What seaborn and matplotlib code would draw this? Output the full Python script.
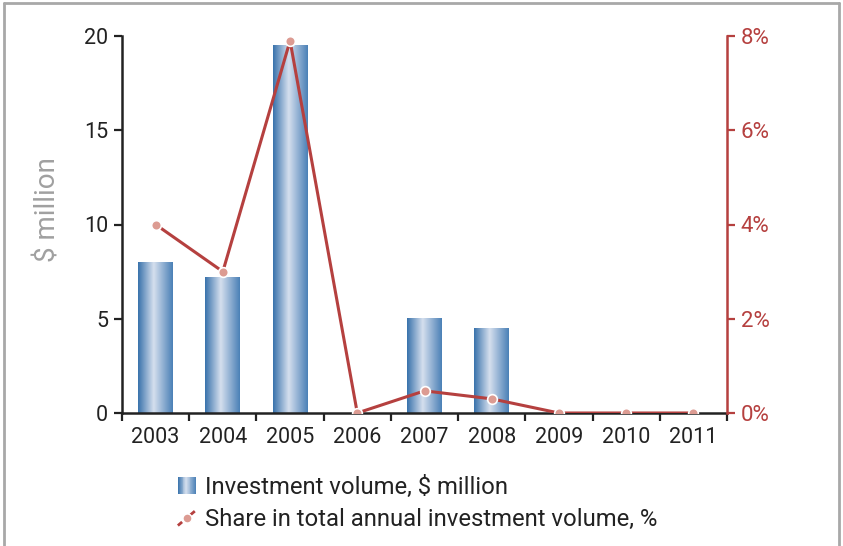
import numpy as np
import pandas as pd
import matplotlib
matplotlib.use("Agg")
import matplotlib.pyplot as plt
import seaborn as sns
from matplotlib.colors import LinearSegmentedColormap
from matplotlib.lines import Line2D
from matplotlib.patches import Rectangle
from matplotlib.legend_handler import HandlerBase

years = ["2003", "2004", "2005", "2006", "2007", "2008", "2009", "2010", "2011"]
volume = [8.0, 7.2, 19.5, 0.0, 5.0, 4.5, 0.0, 0.0, 0.0]
share = [4.0, 3.0, 7.9, 0.0, 0.47, 0.3, 0.0, 0.0, 0.0]
left_ticks = [0, 5, 10, 15, 20]
right_ticks = [0, 2, 4, 6, 8]
label_bar = "Investment volume, $ million"
label_line = "Share in total annual investment volume, %"
ylabel = "$ million"

sns.set_theme(style="white")
plt.rcParams["font.family"] = ["Roboto", "DejaVu Sans"]

RED = "#b5403f"
MFACE = "#dc9b92"
TXT = "#222222"
cmap = LinearSegmentedColormap.from_list(
    "cyl", [(0, "#3872ab"), (0.45, "#d5dfee"), (1, "#4a80b6")])

df = pd.DataFrame({"year": years, "volume": volume, "share": share})
df["pos"] = np.arange(len(df))

fig = plt.figure(figsize=(8.43, 5.46), dpi=100)
ax = fig.add_axes([122 / 843, 1 - 413 / 546, (727 - 122) / 843, (413 - 36) / 546])

sns.barplot(data=df, x="year", y="volume", ax=ax, width=0.52, color="#4a80b6",
            saturation=1, order=years)
grad = np.linspace(0, 1, 256).reshape(1, -1)
for p in ax.patches:
    x0, y0 = p.get_x(), p.get_y()
    w, h = p.get_width(), p.get_height()
    if h <= 0:
        p.set_visible(False)
        continue
    ax.imshow(grad, cmap=cmap, extent=[x0, x0 + w, y0, y0 + h], aspect="auto",
              zorder=2, interpolation="bilinear")
    p.set_visible(False)

ax.set_xlim(-0.5, len(years) - 0.5)
ax.set_ylim(0, 20)
ax.set_yticks(left_ticks)
ax.set_yticklabels([str(t) for t in left_ticks])
ax.set_xticks(np.arange(-0.5, len(years), 1.0))
ax.set_xticklabels([])
ax.set_xticks(np.arange(len(years)), minor=True)
ax.set_xticklabels(years, minor=True)
ax.tick_params(axis="x", which="major", direction="out", length=6, width=1.6,
               color=TXT, bottom=True)
ax.tick_params(axis="x", which="minor", length=0, pad=10, labelsize=15.5,
               labelcolor=TXT, bottom=True)
ax.tick_params(axis="y", direction="out", length=6, width=1.6, color=TXT,
               labelsize=15.5, labelcolor=TXT, left=True, pad=4)
ax.set_xlabel("")
ax.set_ylabel(ylabel, color="#a0a0a0", fontsize=20, labelpad=16)
ax.yaxis.label.set_y(0.54)
for s in ["top", "right"]:
    ax.spines[s].set_visible(False)
for s in ["left", "bottom"]:
    ax.spines[s].set_color(TXT)
    ax.spines[s].set_linewidth(1.8)

ax2 = ax.twinx()
sns.lineplot(data=df, x="pos", y="share", ax=ax2, color=RED, linewidth=2.2,
             marker="o", markersize=7, markerfacecolor=MFACE,
             markeredgecolor="white", markeredgewidth=1.2, zorder=5)
ax2.set_ylim(0, 8)
ax2.set_xlim(-0.5, len(years) - 0.5)
ax2.set_yticks(right_ticks)
ax2.set_yticklabels([f"{t}%" for t in right_ticks])
ax2.set_ylabel("")
ax2.set_xlabel("")
ax2.tick_params(axis="y", direction="out", length=6, width=1.6, colors=RED,
                labelsize=16, right=True, pad=4)
for s in ["top", "left", "bottom"]:
    ax2.spines[s].set_visible(False)
ax2.spines["right"].set_color(RED)
ax2.spines["right"].set_linewidth(1.8)


class GradHandler(HandlerBase):
    def create_artists(self, legend, orig_handle, xdescent, ydescent, width,
                       height, fontsize, trans):
        arts = []
        n = 20
        w = 12.5
        h = 12.5
        x0 = -xdescent + (width - w) / 2
        y0 = -ydescent + (height - h) / 2
        for i in range(n):
            c = cmap((i + 0.5) / n)
            r = Rectangle((x0 + i * w / n, y0), w / n + 0.2, h, facecolor=c,
                          edgecolor="none", transform=trans)
            arts.append(r)
        return arts


class DiagHandler(HandlerBase):
    def create_artists(self, legend, orig_handle, xdescent, ydescent, width,
                       height, fontsize, trans):
        cx = -xdescent + width / 2
        cy = -ydescent + height / 2
        d = 6.5
        ln = Line2D([cx - d, cx + d], [cy - d * 0.85, cy + d * 0.85], color=RED,
                    linewidth=2.0, linestyle=(0, (2.0, 1.0)), transform=trans)
        mk = Line2D([cx], [cy], marker="o", markersize=6.5, markerfacecolor=MFACE,
                    markeredgecolor="white", markeredgewidth=1.0,
                    linestyle="none", transform=trans)
        return [ln, mk]


h_bar = Rectangle((0, 0), 1, 1)
h_line = Line2D([], [])
fig.legend([h_bar, h_line], [label_bar, label_line],
           handler_map={Rectangle: GradHandler(), Line2D: DiagHandler()},
           loc="upper left", bbox_to_anchor=(166 / 843, 1 - 463 / 546),
           frameon=False, fontsize=17.2, handlelength=0.75, handleheight=1.0,
           handletextpad=0.4, labelspacing=0.35, borderpad=0,
           labelcolor=TXT)

# figure border (top, left, right)
bc = "#a8a8a8"
fig.add_artist(Line2D([4 / 843, 839 / 843], [1 - 3 / 546, 1 - 3 / 546],
                      transform=fig.transFigure, color=bc, linewidth=2))
fig.add_artist(Line2D([4 / 843, 4 / 843], [0, 1 - 3 / 546],
                      transform=fig.transFigure, color=bc, linewidth=2))
fig.add_artist(Line2D([839 / 843, 839 / 843], [0, 1 - 3 / 546],
                      transform=fig.transFigure, color=bc, linewidth=2))

fig.savefig("out.png", dpi=100)
